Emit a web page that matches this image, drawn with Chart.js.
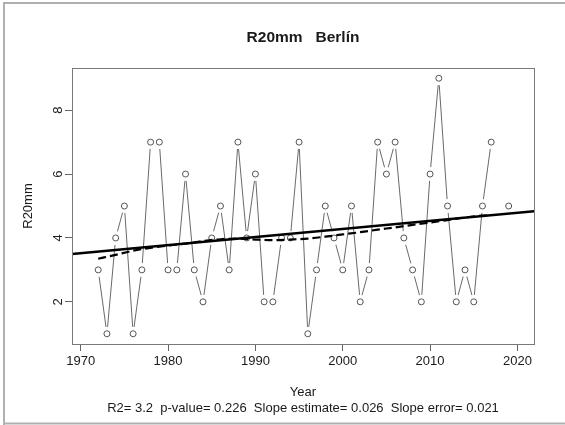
<!DOCTYPE html>
<html>
<head>
<meta charset="utf-8">
<script src="https://cdn.jsdelivr.net/npm/chart.js@4.4.0/dist/chart.umd.min.js"></script>
<style>
  body { margin: 0; background: #fff; }
  #wrap { width: 565px; height: 425px; }
</style>
</head>
<body>
<div id="wrap"><canvas id="r20Chart" width="565" height="425"></canvas></div>
<script>
// R20mm, Berlin - yearly values (2018 missing)
var years = [1972, 1973, 1974, 1975, 1976, 1977, 1978, 1979, 1980, 1981, 1982, 1983, 1984, 1985, 1986, 1987,
    1988, 1989, 1990, 1991, 1992, 1993, 1994, 1995, 1996, 1997, 1998, 1999, 2000, 2001, 2002, 2003,
    2004, 2005, 2006, 2007, 2008, 2009, 2010, 2011, 2012, 2013, 2014, 2015, 2016, 2017, 2018, 2019];
var r20Values = [3, 1, 4, 5, 1, 3, 7, 7, 3, 3, 6, 3, 2, 4, 5, 3,
    7, 4, 6, 2, 2, 4, 4, 7, 1, 3, 5, 4, 3, 5, 2, 3,
    7, 6, 7, 4, 3, 2, 6, 9, 5, 2, 3, 2, 5, 7, null, 5];

// linear trend (end points)
var trendYears = [1969, 2022];
var trendValues = [3.50, 4.84];

// smoothed curve (dashed)
var smoothYears = [1972, 1974, 1976, 1978, 1980, 1982, 1984, 1986, 1988, 1990, 1992, 1994, 1996,
    1998, 2000, 2002, 2004, 2006, 2008, 2010, 2012, 2014, 2016, 2017];
var smoothValues = [3.35, 3.47, 3.60, 3.69, 3.76, 3.82, 3.90, 3.96, 3.98, 3.95, 3.93, 3.95, 3.98,
    4.04, 4.11, 4.18, 4.26, 4.33, 4.41, 4.48, 4.56, 4.64, 4.70, 4.72];

var xTicks = [1970, 1980, 1990, 2000, 2010, 2020];
var yTicks = [2, 4, 6, 8];

var chartTitle = 'R20mm   Berl\u00edn';
var xTitle = 'Year';
var yTitle = 'R20mm';
var statsText = 'R2= 3.2  p-value= 0.226  Slope estimate= 0.026  Slope error= 0.021';

function toPoints(xs, ys) {
    return xs.map(function (x, i) { return { x: x, y: ys[i] }; });
}

var fontName = "'Liberation Sans', Arial, sans-serif";

// frame, box and texts, R style
var rPlotDecor = {
    id: 'rPlotDecor',
    beforeDraw: function (chart) {
        var c = chart.ctx;
        c.save();
        c.fillStyle = '#fff';
        c.fillRect(0, 0, chart.width, chart.height);
        c.strokeStyle = '#b0b0b0';
        c.lineWidth = 2;
        c.beginPath();
        c.moveTo(4, 426);
        c.lineTo(4, 3);
        c.lineTo(566, 3);
        c.moveTo(4, 423.5);
        c.lineTo(566, 423.5);
        c.stroke();
        c.restore();
    },
    afterDraw: function (chart) {
        var c = chart.ctx;
        var a = chart.chartArea;
        var yScale = chart.scales.y;
        var cx = (a.left + a.right) / 2;
        c.save();
        // box
        c.strokeStyle = '#7a7a7a';
        c.lineWidth = 1;
        c.strokeRect(Math.round(a.left) + 0.5, Math.round(a.top) + 0.5,
            Math.round(a.right - a.left), Math.round(a.bottom - a.top));

        c.fillStyle = '#1a1a1a';
        c.textAlign = 'center';
        c.textBaseline = 'middle';
        // title
        c.font = 'bold 15.5px ' + fontName;
        c.fillText(chartTitle, cx, 38);
        // x title + stats
        c.font = '13px ' + fontName;
        c.fillText(xTitle, cx, 392);
        c.fillText(statsText, cx, 408.5);
        // y title
        c.save();
        c.translate(28, (a.top + a.bottom) / 2);
        c.rotate(-Math.PI / 2);
        c.fillText(yTitle, 0, 0);
        c.restore();
        // y tick labels, parallel to axis
        yScale.ticks.forEach(function (t) {
            var py = yScale.getPixelForValue(t.value);
            c.save();
            c.translate(58, py);
            c.rotate(-Math.PI / 2);
            c.fillText(String(t.value), 0, 0);
            c.restore();
        });
        c.restore();
    }
};

var seriesPoints = toPoints(years, r20Values);

var ctx = document.getElementById('r20Chart').getContext('2d');
var r20Chart = new Chart(ctx, {
    type: 'scatter',
    data: {
        datasets: [
            {
                // connecting line (type "b")
                label: 'R20mm line',
                data: seriesPoints,
                showLine: true,
                spanGaps: false,
                borderColor: '#6a6a6a',
                borderWidth: 1,
                pointRadius: 0,
                order: 5
            },
            {
                // white gap around each point, like R type = "b"
                label: 'gaps',
                data: seriesPoints,
                showLine: false,
                pointRadius: 7,
                pointBorderWidth: 0,
                pointBackgroundColor: '#fff',
                pointBorderColor: '#fff',
                order: 4
            },
            {
                label: 'R20mm',
                data: seriesPoints,
                showLine: false,
                pointRadius: 3,
                pointBorderWidth: 1,
                pointBorderColor: '#555',
                pointBackgroundColor: 'rgba(255,255,255,0)',
                order: 3
            },
            {
                label: 'smooth',
                data: toPoints(smoothYears, smoothValues),
                showLine: true,
                borderColor: '#000',
                borderWidth: 2.2,
                borderDash: [8, 4],
                cubicInterpolationMode: 'monotone',
                pointRadius: 0,
                order: 2
            },
            {
                label: 'trend',
                data: toPoints(trendYears, trendValues),
                showLine: true,
                borderColor: '#000',
                borderWidth: 2.5,
                pointRadius: 0,
                order: 1
            }
        ]
    },
    options: {
        responsive: false,
        animation: false,
        layout: { padding: { top: 68, right: 31, left: 0, bottom: 0 } },
        plugins: {
            legend: { display: false },
            tooltip: { enabled: false },
            title: { display: false }
        },
        scales: {
            x: {
                type: 'linear',
                min: 1969,
                max: 2021.9,
                afterBuildTicks: function (s) { s.ticks = xTicks.map(function (v) { return { value: v }; }); },
                afterFit: function (s) { s.height = 81; },
                border: { display: false },
                grid: { drawOnChartArea: false, drawTicks: true, tickLength: 7, color: '#666' },
                ticks: {
                    color: '#1a1a1a',
                    padding: 3,
                    maxRotation: 0,
                    font: { family: fontName, size: 13 },
                    callback: function (v) { return String(v); }
                }
            },
            y: {
                type: 'linear',
                min: 0.68,
                max: 9.32,
                afterBuildTicks: function (s) { s.ticks = yTicks.map(function (v) { return { value: v }; }); },
                afterFit: function (s) { s.width = 72; },
                border: { display: false },
                grid: { drawOnChartArea: false, drawTicks: true, tickLength: 7, color: '#666' },
                ticks: { display: false }
            }
        }
    },
    plugins: [rPlotDecor]
});
</script>
</body>
</html>
